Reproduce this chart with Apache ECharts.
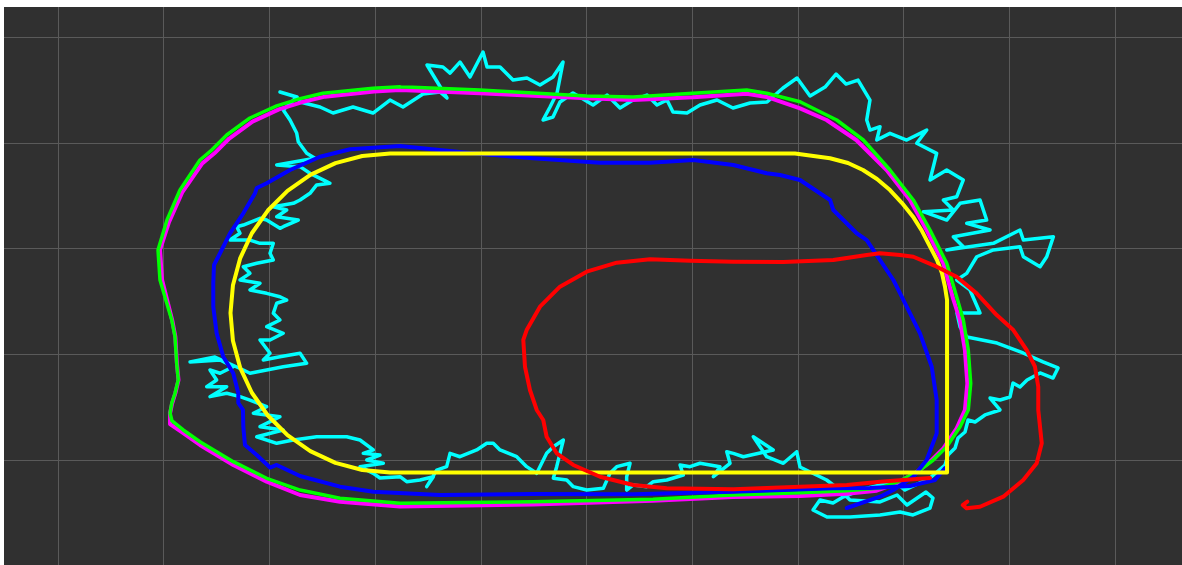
<!DOCTYPE html>
<html>
<head>
<meta charset="utf-8">
<script src="https://cdn.jsdelivr.net/npm/echarts@6/dist/echarts.min.js"></script>
<style>
  html, body { margin: 0; padding: 0; background: #ffffff; overflow: hidden; }
  #chart { position: absolute; left: 4px; top: 7px; width: 1178px; height: 558px; background: #303030; }
</style>
</head>
<body>
<div id="chart"></div>
<script>
// Trajectories in metres on a 1 m grid (x to the right, y up).

// Reference lane: rounded rectangle
const yellowPath = [
  [3.141, 2.898], [6.973, 2.898], [7.304, 2.853], [7.474, 2.808], [7.616, 2.742],
  [7.748, 2.657], [7.871, 2.553], [7.985, 2.430], [8.089, 2.301], [8.174, 2.165],
  [8.250, 2.017], [8.316, 1.891], [8.363, 1.768], [8.392, 1.636], [8.411, 1.513],
  [8.411, -0.118], [3.141, -0.118], [2.879, -0.095], [2.625, -0.027], [2.387, 0.084],
  [2.171, 0.235], [1.985, 0.421], [1.834, 0.636], [1.723, 0.874], [1.655, 1.128],
  [1.632, 1.390], [1.655, 1.652], [1.723, 1.906], [1.834, 2.144], [1.985, 2.359],
  [2.171, 2.545], [2.387, 2.696], [2.625, 2.807], [2.879, 2.875], [3.141, 2.898]
];

const greenPath = [
  [3.236, 3.530], [3.992, 3.499], [5.002, 3.442], [5.440, 3.433], [6.008, 3.468],
  [6.516, 3.499], [6.705, 3.468], [7.020, 3.388], [7.367, 3.215], [7.619, 3.026],
  [7.871, 2.742], [8.092, 2.459], [8.250, 2.175], [8.408, 1.860], [8.502, 1.544],
  [8.565, 1.324], [8.612, 1.040], [8.635, 0.725], [8.612, 0.473], [8.534, 0.315],
  [8.408, 0.126], [8.281, 0.000], [8.155, -0.095], [7.966, -0.199], [7.777, -0.265],
  [7.462, -0.290], [7.020, -0.309], [6.386, -0.331], [5.629, -0.372], [4.494, -0.394],
  [3.236, -0.409], [2.668, -0.362], [2.290, -0.284], [1.974, -0.173], [1.658, -0.016],
  [1.343, 0.173], [1.185, 0.284], [1.079, 0.369], [1.060, 0.442], [1.076, 0.536],
  [1.107, 0.631], [1.138, 0.757], [1.123, 0.914], [1.107, 1.166], [1.076, 1.324],
  [0.965, 1.702], [0.946, 1.986], [1.031, 2.270], [1.154, 2.553], [1.343, 2.837],
  [1.454, 2.931], [1.596, 3.073], [1.816, 3.234], [2.069, 3.348], [2.290, 3.417],
  [2.507, 3.468], [2.980, 3.515], [3.236, 3.530]
];

const magentaPath = [
  [3.236, 3.499], [3.992, 3.468], [5.002, 3.420], [5.440, 3.405], [6.008, 3.430],
  [6.516, 3.464], [6.705, 3.433], [7.020, 3.325], [7.271, 3.215], [7.552, 3.026],
  [7.839, 2.742], [8.060, 2.459], [8.218, 2.175], [8.376, 1.860], [8.470, 1.520],
  [8.533, 1.324], [8.580, 1.040], [8.603, 0.725], [8.580, 0.473], [8.502, 0.300],
  [8.376, 0.110], [8.250, -0.016], [8.124, -0.115], [7.935, -0.220], [7.745, -0.290],
  [7.462, -0.320], [7.020, -0.340], [6.386, -0.350], [5.629, -0.385], [4.494, -0.420],
  [3.236, -0.440], [2.668, -0.395], [2.290, -0.331], [1.974, -0.205], [1.658, -0.047],
  [1.343, 0.142], [1.185, 0.255], [1.060, 0.340], [1.060, 0.442], [1.080, 0.536],
  [1.110, 0.631], [1.140, 0.757], [1.125, 0.914], [1.110, 1.166], [1.080, 1.324],
  [0.985, 1.702], [0.965, 1.986], [1.050, 2.250], [1.175, 2.530], [1.365, 2.805],
  [1.480, 2.900], [1.620, 3.040], [1.840, 3.200], [2.090, 3.315], [2.310, 3.385],
  [2.525, 3.436], [2.990, 3.485], [3.236, 3.499]
];

const bluePath = [
  [8.392, -0.076], [8.297, -0.189], [8.061, -0.246], [7.682, -0.265], [7.332, -0.268],
  [6.386, -0.300], [5.440, -0.324], [4.494, -0.322], [3.614, -0.331], [2.983, -0.300],
  [2.668, -0.252], [2.290, -0.151], [2.069, -0.047], [2.006, -0.071], [1.880, 0.047],
  [1.769, 0.142], [1.753, 0.315], [1.750, 0.473], [1.706, 0.539], [1.706, 0.631],
  [1.658, 0.820], [1.564, 0.977], [1.501, 1.198], [1.469, 1.450], [1.469, 1.671],
  [1.476, 1.844], [1.533, 1.955], [1.627, 2.144], [1.753, 2.333], [1.864, 2.522],
  [1.880, 2.572], [1.974, 2.617], [2.195, 2.742], [2.479, 2.868], [2.763, 2.938],
  [3.236, 2.969], [3.867, 2.906], [4.494, 2.853], [5.128, 2.811], [5.601, 2.811],
  [6.010, 2.837], [6.389, 2.790], [6.705, 2.711], [6.831, 2.695], [7.020, 2.648],
  [7.304, 2.459], [7.335, 2.364], [7.556, 2.144], [7.651, 2.080], [7.903, 1.702],
  [7.935, 1.639], [8.061, 1.387], [8.155, 1.198], [8.266, 0.882], [8.313, 0.567],
  [8.313, 0.252], [8.218, 0.000], [8.092, -0.158], [7.903, -0.284], [7.777, -0.347],
  [7.462, -0.454]
];

const redPath = [
  [8.250, -0.170], [7.777, -0.205], [7.462, -0.236], [7.020, -0.252], [6.389, -0.277],
  [5.759, -0.268], [5.443, -0.236], [5.128, -0.158], [4.875, -0.047], [4.718, 0.063],
  [4.623, 0.220], [4.591, 0.378], [4.529, 0.473], [4.465, 0.662], [4.418, 0.882],
  [4.402, 1.135], [4.434, 1.229], [4.560, 1.450], [4.749, 1.639], [5.002, 1.781],
  [5.286, 1.866], [5.601, 1.898], [5.979, 1.885], [6.389, 1.875], [6.862, 1.872],
  [7.335, 1.891], [7.651, 1.939], [7.777, 1.955], [7.966, 1.939], [8.092, 1.922],
  [8.313, 1.828], [8.502, 1.733], [8.691, 1.576], [8.881, 1.371], [9.038, 1.229],
  [9.165, 1.040], [9.243, 0.882], [9.274, 0.693], [9.274, 0.473], [9.307, 0.158],
  [9.259, -0.031], [9.132, -0.189], [8.943, -0.347], [8.723, -0.442], [8.597, -0.457],
  [8.559, -0.426], [8.603, -0.394]
];

const cyanPath = [
  // top edge, left to right
  [2.100, 3.480], [2.261, 3.433], [2.290, 3.385], [2.479, 3.338], [2.602, 3.281],
  [2.791, 3.338], [2.980, 3.281], [3.141, 3.404], [3.264, 3.338], [3.453, 3.461],
  [3.614, 3.480], [3.680, 3.423], [3.491, 3.735], [3.642, 3.716], [3.709, 3.659],
  [3.803, 3.763], [3.898, 3.622], [4.021, 3.858], [4.059, 3.716], [4.182, 3.716],
  [4.305, 3.593], [4.437, 3.612], [4.560, 3.546], [4.683, 3.622], [4.778, 3.763],
  [4.721, 3.470], [4.655, 3.338], [4.589, 3.215], [4.683, 3.243], [4.749, 3.385],
  [4.872, 3.470], [5.062, 3.357], [5.194, 3.451], [5.317, 3.329], [5.440, 3.404],
  [5.572, 3.451], [5.667, 3.357], [5.762, 3.404], [5.818, 3.291], [5.951, 3.281],
  [6.074, 3.357], [6.235, 3.404], [6.386, 3.329], [6.547, 3.376], [6.708, 3.385],
  [6.859, 3.518], [6.992, 3.612], [7.115, 3.442], [7.257, 3.527], [7.361, 3.650],
  [7.455, 3.555], [7.569, 3.593], [7.682, 3.404], [7.651, 3.215], [7.682, 3.120],
  // right side, top to bottom
  [7.777, 3.152], [7.746, 3.026], [7.871, 3.089], [8.029, 3.026], [8.219, 3.120],
  [8.124, 2.995], [8.313, 2.900], [8.250, 2.648], [8.408, 2.742], [8.565, 2.648],
  [8.503, 2.490], [8.376, 2.459], [8.470, 2.364], [8.187, 2.348], [8.408, 2.269],
  [8.534, 2.427], [8.723, 2.459], [8.786, 2.269], [8.597, 2.238], [8.818, 2.175],
  [8.470, 2.112], [8.565, 2.017], [8.408, 1.986], [8.849, 2.049], [9.101, 2.175],
  [9.133, 2.080], [9.417, 2.112], [9.354, 1.922], [9.291, 1.828], [9.133, 1.922],
  [9.101, 2.017], [8.849, 1.986], [8.692, 1.922], [8.597, 1.765], [8.503, 1.702],
  [8.628, 1.608], [8.723, 1.390], [8.505, 1.390], [8.534, 1.258], [8.600, 1.163],
  [8.884, 1.106], [9.130, 1.012], [9.319, 0.927], [9.461, 0.870], [9.414, 0.775],
  [9.291, 0.823], [9.168, 0.756], [9.101, 0.690], [9.035, 0.728], [9.007, 0.596],
  [8.912, 0.567], [8.818, 0.586], [8.912, 0.473], [8.770, 0.426], [8.676, 0.359],
  [8.610, 0.378], [8.581, 0.265], [8.515, 0.208], [8.487, 0.113], [8.420, 0.047],
  // bottom-right knot
  [8.392, -0.047], [8.250, -0.170], [8.013, -0.284], [7.919, -0.208], [7.777, -0.236],
  [7.588, -0.284], [7.427, -0.350], [7.332, -0.407], [7.209, -0.378], [7.143, -0.473],
  [7.275, -0.539], [7.493, -0.539], [7.777, -0.520], [7.966, -0.492], [8.089, -0.520],
  [8.250, -0.454], [8.278, -0.359], [8.212, -0.303], [8.032, -0.426], [7.938, -0.331],
  [7.777, -0.397], [7.493, -0.378], [7.398, -0.284], [7.272, -0.189], [7.020, -0.066],
  // bottom edge, right to left
  [6.989, 0.078], [6.862, -0.031], [6.705, 0.031], [6.578, 0.220], [6.767, 0.095],
  [6.484, 0.031], [6.389, 0.063], [6.327, 0.078], [6.358, -0.031], [6.200, -0.158],
  [6.263, -0.063], [6.074, -0.031], [5.979, -0.063], [5.885, -0.047], [5.916, -0.142],
  [5.759, -0.189], [5.632, -0.205], [5.570, -0.252], [5.443, -0.236], [5.380, -0.284],
  [5.380, -0.158], [5.412, -0.031], [5.286, -0.063], [5.222, -0.126], [5.159, -0.268],
  [5.002, -0.284], [4.875, -0.252], [4.813, -0.189], [4.686, -0.173], [4.718, -0.063],
  [4.781, 0.189], [4.686, 0.126], [4.623, 0.063], [4.529, -0.126], [4.434, -0.063],
  [4.340, 0.031], [4.182, 0.095], [4.118, 0.158], [4.056, 0.158], [3.961, 0.095],
  [3.803, 0.031], [3.709, 0.063], [3.677, -0.063], [3.583, -0.095], [3.488, -0.252],
  [3.551, -0.158], [3.425, -0.189], [3.299, -0.205], [3.236, -0.158], [3.046, -0.170],
  // left side, bottom to top
  [2.983, -0.126], [2.857, -0.063], [3.078, -0.031], [2.921, 0.000], [3.046, 0.047],
  [2.888, 0.063], [2.983, 0.095], [2.857, 0.189], [2.731, 0.220], [2.447, 0.220],
  [2.226, 0.189], [2.069, 0.158], [1.880, 0.220], [2.131, 0.284], [1.911, 0.315],
  [2.100, 0.409], [1.848, 0.442], [1.974, 0.504], [1.816, 0.567], [1.722, 0.599],
  [1.596, 0.631], [1.438, 0.599], [1.596, 0.693], [1.407, 0.693], [1.501, 0.757],
  [1.438, 0.851], [1.533, 0.820], [1.658, 0.882], [1.533, 0.946], [1.249, 0.927],
  [1.485, 0.974], [1.753, 0.851], [1.816, 0.820], [1.974, 0.851], [2.131, 0.882],
  [2.353, 0.914], [2.290, 1.009], [2.100, 0.977], [1.942, 0.946], [2.006, 1.009],
  [1.911, 1.135], [2.006, 1.135], [2.131, 1.198], [1.974, 1.261], [2.100, 1.324],
  [2.037, 1.387], [2.069, 1.482], [2.164, 1.513], [2.100, 1.544], [1.974, 1.576],
  [1.816, 1.608], [1.911, 1.671], [1.722, 1.702], [1.816, 1.765], [1.753, 1.828],
  [1.880, 1.860], [2.037, 1.891], [2.006, 1.955], [2.037, 2.049], [1.911, 2.049],
  [1.816, 2.080], [1.627, 2.080], [1.722, 2.144], [1.691, 2.206], [1.753, 2.222],
  [1.911, 2.286], [1.974, 2.269], [2.100, 2.191], [2.131, 2.206], [2.273, 2.269],
  [2.069, 2.301], [2.164, 2.364], [2.037, 2.395], [2.226, 2.427], [2.290, 2.459],
  [2.384, 2.522], [2.447, 2.601], [2.573, 2.617], [2.542, 2.632], [2.384, 2.711],
  [2.290, 2.774], [2.069, 2.790], [2.431, 2.853], [2.353, 2.900], [2.273, 3.010],
  [2.258, 3.092], [2.195, 3.215], [2.131, 3.310], [2.258, 3.433], [2.100, 3.480]
];

const chart = echarts.init(document.getElementById('chart'), null, { renderer: 'canvas' });

function track(name, data, color, width, z) {
  return {
    name: name,
    type: 'line',
    data: data,
    symbol: 'none',
    showSymbol: false,
    silent: true,
    z: z,
    lineStyle: { color: color, width: width, join: 'round', cap: 'round' },
    emphasis: { disabled: true }
  };
}

chart.setOption({
  backgroundColor: '#303030',
  animation: false,
  grid: {
    left: -51.7, right: -38.7, top: -75.75, bottom: -106.5,
    outerBoundsMode: 'none', containLabel: false
  },
  xAxis: {
    type: 'value', min: -1, max: 11, interval: 1,
    axisLine: { show: false }, axisTick: { show: false }, axisLabel: { show: false },
    splitLine: { show: true, lineStyle: { color: '#5a5a5a', width: 1 } }
  },
  yAxis: {
    type: 'value', min: -2, max: 5, interval: 1,
    axisLine: { show: false }, axisTick: { show: false }, axisLabel: { show: false },
    splitLine: { show: true, lineStyle: { color: '#5a5a5a', width: 1 } }
  },
  series: [
    track('cyan', cyanPath, '#00ffff', 3.5, 1),
    track('magenta', magentaPath, '#ff00ff', 4, 2),
    track('green', greenPath, '#00ff00', 3.5, 3),
    track('blue', bluePath, '#0000ff', 4, 4),
    track('yellow', yellowPath, '#ffff00', 4, 5),
    track('red', redPath, '#ff0000', 4, 6)
  ]
});
</script>
</body>
</html>
